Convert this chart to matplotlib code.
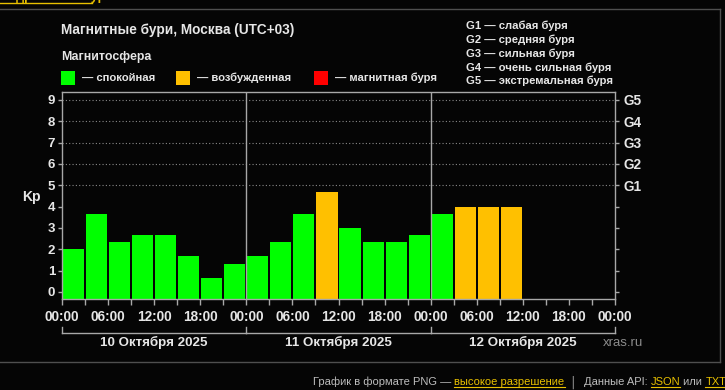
import matplotlib
matplotlib.use("Agg")
import matplotlib.pyplot as plt
from matplotlib.lines import Line2D
from matplotlib.transforms import blended_transform_factory

plt.rcParams['font.family'] = ['Liberation Sans', 'DejaVu Sans']

# ---- data ----
kp_values = [2.0, 3.67, 2.33, 2.67, 2.67, 1.67, 0.67, 1.33,
             1.67, 2.33, 3.67, 4.67, 3.0, 2.33, 2.33, 2.67,
             3.67, 4.0, 4.0, 4.0]
kp_states = ['q', 'q', 'q', 'q', 'q', 'q', 'q', 'q',
             'q', 'q', 'q', 'a', 'q', 'q', 'q', 'q',
             'q', 'a', 'a', 'a']
day_labels = ['10 Октября 2025', '11 Октября 2025', '12 Октября 2025']
hour_labels = ['00:00', '06:00', '12:00', '18:00']
g_levels = [5, 6, 7, 8, 9]
g_labels = ['G1', 'G2', 'G3', 'G4', 'G5']
g_legend = ['G1 — слабая буря', 'G2 — средняя буря', 'G3 — сильная буря',
            'G4 — очень сильная буря', 'G5 — экстремальная буря']
state_names = ['— спокойная', '— возбужденная', '— магнитная буря']

GREEN = '#00ff00'
ORANGE = '#ffc000'
RED = '#ff0000'
state_colors = {'q': GREEN, 'a': ORANGE, 's': RED}
BG = '#050505'
SPINE = '#a8a8a8'
TXT = '#e6e6e6'

W, H = 725, 390
fig = plt.figure(figsize=(W / 100, H / 100), dpi=100, facecolor=BG)


def fx(x):
    return x / W


def fy(y):
    return 1 - y / H


YMIN, YMAX = -0.33, 9.37
ax = fig.add_axes([fx(62), fy(299), (615 - 62) / W, (299 - 92) / H])
ax.set_facecolor(BG)
ax.set_xlim(0, 72)
ax.set_ylim(YMIN, YMAX)

# grid at G levels
for g in g_levels:
    ax.axhline(g, color='#8a8a8a', lw=0.8, ls=(0, (1, 2)), zorder=1)

# bars
xs = [3 * i + 1.5 for i in range(len(kp_values))]
heights = [v - YMIN for v in kp_values]
cols = [state_colors[s] for s in kp_states]
ax.bar(xs, heights, width=2.75, bottom=YMIN, color=cols, edgecolor='none', zorder=2)

# day separators
for d in (24, 48):
    ax.axvline(d, color=SPINE, lw=1.0, zorder=3)

for sp in ax.spines.values():
    sp.set_color(SPINE)
    sp.set_linewidth(1.0)

# y ticks left
ax.set_yticks(range(0, 10))
ax.set_yticklabels([str(i) for i in range(10)])
ax.tick_params(axis='y', colors=SPINE, labelcolor=TXT, length=3, width=1,
               labelsize=9.5, pad=2)
for t in ax.get_yticklabels():
    t.set_fontweight('bold')

# x ticks
ax.set_xticks(list(range(0, 73, 6)))
ax.set_xticklabels([hour_labels[(h // 6) % 4] for h in range(0, 73, 6)])
ax.set_xticks(list(range(3, 73, 6)), minor=True)
ax.tick_params(axis='x', which='both', colors=SPINE, labelcolor=TXT, length=4,
               width=1, labelsize=9.8, pad=4)
for t in ax.get_xticklabels():
    t.set_fontweight('bold')

# right axis
ax2 = ax.twinx()
ax2.set_ylim(YMIN, YMAX)
ax2.set_yticks(range(0, 10))
ax2.set_yticklabels(['' if i < 5 else g_labels[i - 5] for i in range(10)])
ax2.tick_params(axis='y', colors=SPINE, labelcolor=TXT, length=3, width=1,
                labelsize=9.8, pad=3)
for t in ax2.get_yticklabels():
    t.set_fontweight('bold')
for sp in ax2.spines.values():
    sp.set_visible(False)

# Kp label
fig.text(fx(31), fy(197), 'Kp', color=TXT, fontsize=10, fontweight='bold',
         ha='center', va='center')

# date brackets
bt = blended_transform_factory(ax.transData, fig.transFigure)
for i, lab in enumerate(day_labels):
    x0, x1 = 24 * i, 24 * (i + 1)
    fig.add_artist(Line2D([x0, x1], [fy(333), fy(333)], transform=bt,
                          color=SPINE, lw=1.0))
    fig.text(x0 + 12, fy(342), lab, transform=bt, color=TXT, fontsize=9.6,
             fontweight='bold', ha='center', va='center')
for d in range(0, 73, 24):
    fig.add_artist(Line2D([d, d], [fy(333), fy(327)], transform=bt,
                          color=SPINE, lw=1.0))

fig.text(fx(603), fy(343), 'xras.ru', color='#8c8c8c', fontsize=9.5,
         ha='left', va='center')

# title & legend
fig.text(fx(61), fy(30), 'Магнитные бури, Москва (UTC+03)', color=TXT,
         fontsize=9.8, fontweight='bold', ha='left', va='center')
fig.text(fx(61), fy(57), 'Магнитосфера', color=TXT, fontsize=8.9,
         fontweight='bold', ha='left', va='center')
sq_x = [61, 176, 314]
sq_c = [GREEN, ORANGE, RED]
for x, c, name in zip(sq_x, sq_c, state_names):
    fig.add_artist(plt.Rectangle((fx(x), fy(85)), 14 / W, 14 / H,
                                 transform=fig.transFigure, facecolor=c,
                                 edgecolor='none'))
    fig.text(fx(x + 21), fy(78), name, color=TXT, fontsize=8.1,
             fontweight='bold', ha='left', va='center')

for i, s in enumerate(g_legend):
    fig.text(fx(466), fy(26 + 13.8 * i), s, color=TXT, fontsize=8.1,
             fontweight='bold', ha='left', va='center')

# outer frame
FR = '#4f4f4f'
fig.add_artist(Line2D([0, fx(720)], [fy(9), fy(9)], transform=fig.transFigure,
                      color=FR, lw=1.0))
fig.add_artist(Line2D([0, fx(720)], [fy(362), fy(362)], transform=fig.transFigure,
                      color=FR, lw=1.0))
fig.add_artist(Line2D([fx(720), fx(720)], [fy(9), fy(362)], transform=fig.transFigure,
                      color=FR, lw=1.0))

# clipped link at very top (only its lower edge is visible, as in the reference)
YEL = '#e8c000'
fig.text(fx(1), fy(-4), 'подробнее о бурях', color=YEL, fontsize=9,
         fontweight='bold', ha='left', va='center')
fig.add_artist(Line2D([0, fx(92)], [fy(3), fy(3)], transform=fig.transFigure,
                      color=YEL, lw=1.0))

# footer
fig.canvas.draw()
renderer = fig.canvas.get_renderer()
parts = [('График в формате PNG — ', '#bdbdbd', False),
         ('высокое разрешение', YEL, True),
         ('  │  ', '#bdbdbd', False),
         ('Данные API: ', '#bdbdbd', False),
         ('JSON', YEL, True),
         (' или ', '#bdbdbd', False),
         ('TXT', YEL, True)]
x = 313.0
for s, c, ul in parts:
    t = fig.text(fx(x), fy(382), s, color=c, fontsize=8, ha='left', va='center',
                 fontfamily=['Liberation Sans Narrow', 'Liberation Sans', 'DejaVu Sans'])
    bb = t.get_window_extent(renderer)
    if ul:
        fig.add_artist(Line2D([fx(x), fx(x + bb.width)], [fy(387), fy(387)],
                              transform=fig.transFigure, color=c, lw=0.8))
    x += bb.width

fig.savefig('out.png', dpi=100, facecolor=BG)
